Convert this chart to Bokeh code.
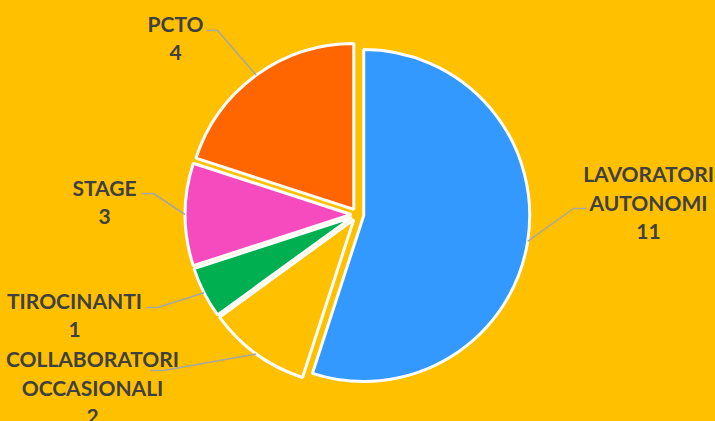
import numpy as np
from bokeh.plotting import figure
from bokeh.models import Range1d, ColumnDataSource
from bokeh.core.properties import value
from bokeh.embed import file_html
from bokeh.resources import INLINE

# ---- data (clockwise from 12 o'clock) ----
categories = ["LAVORATORI\nAUTONOMI", "COLLABORATORI\nOCCASIONALI", "TIROCINANTI", "STAGE", "PCTO"]
shown_values = [11, 2, 1, 3, 4]          # numbers printed in the data labels
slice_values = [11, 2, 1, 2, 4]
colors = ["#3399FF", "#FFC000", "#00B050", "#F54BBE", "#FF6600"]

BG = "#FFC000"
W, H = 715, 421
# data units == page pixels; y flipped so data y = H - page y
def Y(py):
    return H - py

p = figure(width=W, height=H, output_backend="svg", toolbar_location=None,
           x_range=Range1d(0, W), y_range=Range1d(0, H),
           min_border=0, background_fill_color=BG, border_fill_color=BG)
p.axis.visible = False
p.grid.visible = False
p.outline_line_color = None

# ---- pie geometry ----
cx, cy = 357, Y(214)
R = 166
explode = 6.3
vals = np.array(slice_values, dtype=float)
frac = vals / vals.sum()
theta_end = np.cumsum(frac) * 360.0           # clockwise from top
theta_start = theta_end - frac * 360.0
theta_mid = (theta_start + theta_end) / 2
# math angles (anticlockwise from +x)
start = np.radians(90 - theta_end)
end = np.radians(90 - theta_start)
mid = np.radians(90 - theta_mid)
xs = cx + explode * np.cos(mid)
ys = cy + explode * np.sin(mid)

src = ColumnDataSource(dict(x=xs, y=ys, s=start, e=end, c=colors))
p.wedge(x="x", y="y", radius=R, start_angle="s", end_angle="e", source=src,
        fill_color="c", line_color="white", line_width=3)

# ---- labels and leader lines (label anchor positions in page px) ----
label_pos = [(648, 173), (92, 358), (74, 300), (104, 187), (175, 23)]
elbow = [(586, 208, 573), (150, 370, 163), (146, 307, 157), (141, 193, 153), (206, 30, 217)]
line_h = 29
TXT = "#404040"
for i, cat in enumerate(categories):
    lines = cat.split("\n") + [str(shown_values[i])]
    lx, ly = label_pos[i]
    tx = [lx] * len(lines)
    ty = [Y(ly + k * line_h) for k in range(len(lines))]
    p.text(x=tx, y=ty, text=lines, text_align="center", text_baseline="middle",
           text_font=value("Lato"), text_font_style="bold", text_font_size="21px",
           text_color=TXT)
    # leader: from label elbow to arc at slice bisector
    ax = xs[i] + R * np.cos(mid[i])
    ay = ys[i] + R * np.sin(mid[i])
    ex0, ey, ex1 = elbow[i]
    p.line(x=[ex0, ex1, ax], y=[Y(ey), Y(ey), ay], line_color="#A6A6A6", line_width=1.5)

html = file_html(p, INLINE)
html = html.replace("</head>", "<style>html,body{background:#FFC000;}</style></head>", 1)
open("out.html", "w").write(html)
